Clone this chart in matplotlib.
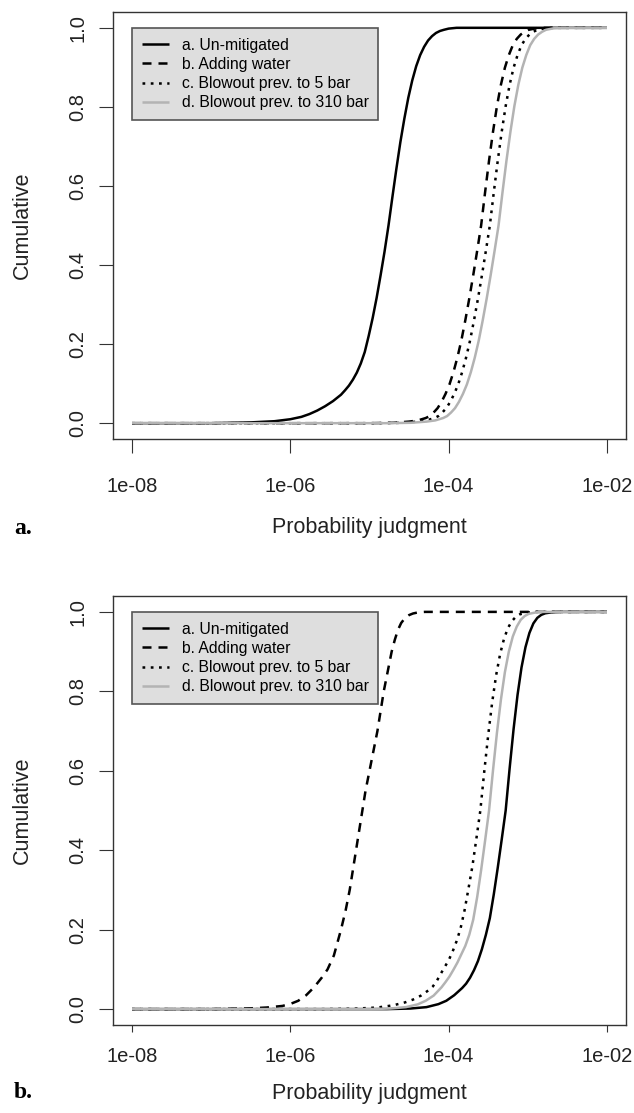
import numpy as np
import matplotlib
matplotlib.use("Agg")
import matplotlib.pyplot as plt
from matplotlib.ticker import NullLocator

plt.rcParams["font.family"] = ["Liberation Sans", "DejaVu Sans"]

series_names = [
    "a. Un-mitigated",
    "b. Adding water",
    "c. Blowout prev. to 5 bar",
    "d. Blowout prev. to 310 bar",
]
x_ticks = [1e-8, 1e-6, 1e-4, 1e-2]
x_tick_labels = ["1e-08", "1e-06", "1e-04", "1e-02"]
y_ticks = [0.0, 0.2, 0.4, 0.6, 0.8, 1.0]
y_tick_labels = ["0.0", "0.2", "0.4", "0.6", "0.8", "1.0"]

# panel a: log10(probability) and cumulative share
a_unmit_logp = [-8, -7, -6.5, -6.2, -6.0, -5.86, -5.76, -5.66, -5.56, -5.46, -5.36,
                -5.31, -5.26, -5.21, -5.16, -5.11, -5.06, -5.01, -4.96, -4.91, -4.86,
                -4.81, -4.76, -4.71, -4.66, -4.61, -4.56, -4.51, -4.46, -4.41, -4.36,
                -4.31, -4.26, -4.21, -4.16, -4.11, -4.06, -4.0, -3.9, -2]
a_unmit_cum = [0, 0, 0.002, 0.005, 0.01, 0.016, 0.023, 0.032, 0.043, 0.056, 0.072,
               0.083, 0.095, 0.11, 0.128, 0.151, 0.18, 0.221, 0.266, 0.317, 0.374,
               0.434, 0.5, 0.573, 0.644, 0.711, 0.77, 0.823, 0.867, 0.903, 0.931,
               0.952, 0.968, 0.979, 0.987, 0.992, 0.995, 0.998, 1.0, 1.0]
a_water_logp = [-8, -5.0, -4.70, -4.50, -4.39, -4.29, -4.24, -4.19, -4.14, -4.09,
                -4.04, -3.99, -3.94, -3.89, -3.84, -3.79, -3.74, -3.69, -3.64, -3.59,
                -3.54, -3.49, -3.44, -3.39, -3.34, -3.29, -3.24, -3.19, -3.14, -3.09,
                -3.04, -2.99, -2.89, -2.79, -2]
a_water_cum = [0, 0, 0.001, 0.004, 0.007, 0.013, 0.018, 0.027, 0.038, 0.054,
               0.074, 0.098, 0.129, 0.166, 0.209, 0.26, 0.315, 0.374, 0.436, 0.5,
               0.584, 0.664, 0.737, 0.802, 0.856, 0.899, 0.931, 0.956, 0.972, 0.983,
               0.99, 0.995, 0.999, 1.0, 1.0]
a_bop5_logp = [-8, -4.89, -4.59, -4.39, -4.28, -4.18, -4.13, -4.08, -4.03, -3.98,
               -3.93, -3.88, -3.83, -3.78, -3.73, -3.68, -3.63, -3.58, -3.53, -3.48,
               -3.43, -3.38, -3.33, -3.28, -3.23, -3.18, -3.13, -3.08, -3.03, -2.98,
               -2.93, -2.88, -2.78, -2.68, -2]
a_bop5_cum = [0, 0, 0.001, 0.004, 0.007, 0.013, 0.018, 0.027, 0.038, 0.054,
              0.074, 0.098, 0.129, 0.166, 0.209, 0.26, 0.315, 0.374, 0.436, 0.5,
              0.584, 0.664, 0.737, 0.802, 0.856, 0.899, 0.931, 0.956, 0.972, 0.983,
              0.99, 0.995, 0.999, 1.0, 1.0]
a_bop310_logp = [-8, -4.78, -4.48, -4.28, -4.17, -4.07, -4.02, -3.97, -3.92, -3.87,
                 -3.82, -3.77, -3.72, -3.67, -3.62, -3.57, -3.52, -3.47, -3.42, -3.37,
                 -3.32, -3.27, -3.22, -3.17, -3.12, -3.07, -3.02, -2.97, -2.92, -2.87,
                 -2.82, -2.77, -2.67, -2.57, -2]
a_bop310_cum = [0, 0, 0.001, 0.004, 0.007, 0.013, 0.018, 0.027, 0.038, 0.054,
                0.074, 0.098, 0.129, 0.166, 0.209, 0.26, 0.315, 0.374, 0.436, 0.5,
                0.584, 0.664, 0.737, 0.802, 0.856, 0.899, 0.931, 0.956, 0.972, 0.983,
                0.99, 0.995, 0.999, 1.0, 1.0]

# panel b
b_unmit_logp = [-8, -4.78, -4.48, -4.28, -4.13, -4.03, -3.93, -3.88, -3.83, -3.78,
                -3.73, -3.68, -3.63, -3.58, -3.53, -3.48, -3.43, -3.38, -3.33, -3.28,
                -3.23, -3.18, -3.13, -3.08, -3.03, -2.98, -2.93, -2.88, -2.83, -2.78,
                -2.68, -2.58, -2]
b_unmit_cum = [0, 0, 0.0015, 0.005, 0.0125, 0.021, 0.035, 0.044, 0.053, 0.064,
               0.079, 0.098, 0.121, 0.151, 0.187, 0.229, 0.289, 0.356, 0.427, 0.5,
               0.606, 0.705, 0.791, 0.86, 0.911, 0.947, 0.971, 0.985, 0.9925, 0.9965,
               0.9994, 1.0, 1.0]
b_water_logp = [-8, -7.0, -6.5, -6.3, -6.1, -6.0, -5.9, -5.8, -5.7, -5.6, -5.53,
                -5.45, -5.36, -5.3, -5.25, -5.21, -5.17, -5.13, -5.09, -5.05, -5.0,
                -4.95, -4.9, -4.86, -4.82, -4.77, -4.72, -4.68, -4.64, -4.6, -4.55,
                -4.5, -4.45, -4.38, -4.3, -2]
b_water_cum = [0, 0, 0.002, 0.004, 0.008, 0.013, 0.021, 0.035, 0.055, 0.08, 0.1,
               0.135, 0.2, 0.25, 0.3, 0.35, 0.4, 0.45, 0.5, 0.55, 0.6,
               0.65, 0.7, 0.75, 0.8, 0.85, 0.9, 0.93, 0.955, 0.972, 0.985,
               0.992, 0.996, 0.999, 1.0, 1.0]
b_bop5_logp = [-8, -5.6, -5.2, -4.9, -4.7, -4.55, -4.45, -4.35, -4.25, -4.2, -4.15,
               -4.1, -4.05, -4.0, -3.95, -3.9, -3.85, -3.8, -3.75, -3.7, -3.65, -3.6,
               -3.55, -3.5, -3.45, -3.4, -3.35, -3.3, -3.25, -3.2, -3.15, -3.1,
               -3.0, -2.9, -2]
b_bop5_cum = [0, 0, 0.001, 0.004, 0.0096, 0.017, 0.024, 0.034, 0.048, 0.057, 0.071,
              0.089, 0.106, 0.123, 0.145, 0.171, 0.203, 0.248, 0.303, 0.36, 0.429, 0.5,
              0.599, 0.691, 0.773, 0.841, 0.894, 0.933, 0.96, 0.977, 0.988, 0.994,
              0.9987, 1.0, 1.0]
b_bop310_logp = [-8, -4.99, -4.74, -4.54, -4.39, -4.29, -4.19, -4.09, -4.04, -3.99,
                 -3.94, -3.89, -3.84, -3.79, -3.74, -3.69, -3.64, -3.59, -3.54, -3.49,
                 -3.44, -3.39, -3.34, -3.29, -3.24, -3.19, -3.14, -3.09, -3.04, -2.99,
                 -2.89, -2.79, -2]
b_bop310_cum = [0, 0, 0.0015, 0.005, 0.012, 0.021, 0.034, 0.055, 0.068, 0.082,
                0.099, 0.117, 0.138, 0.159, 0.187, 0.225, 0.282, 0.35, 0.424, 0.5,
                0.601, 0.696, 0.779, 0.848, 0.9, 0.938, 0.963, 0.98, 0.9895, 0.995,
                0.999, 1.0, 1.0]

styles = [
    dict(color="black", linestyle="-"),
    dict(color="black", dashes=(3.6, 2.8)),
    dict(color="black", dashes=(1.1, 2.2)),
    dict(color="#b3b3b3", linestyle="-"),
]

W, H = 634, 1113


def draw_panel(fig, box, curves, xtick_len, xtick_pad, xlabel_y, tag, tag_y):
    left, top, right, bottom = box
    ax = fig.add_axes([left / W, 1 - bottom / H, (right - left) / W, (bottom - top) / H])
    for (logp, cum), name, st in zip(curves, series_names, styles):
        ax.plot(10.0 ** np.array(logp), cum, lw=1.8, label=name,
                solid_capstyle="butt", dash_capstyle="butt",
                solid_joinstyle="round", **st)

    ax.set_xscale("log")
    ax.set_xlim(10 ** -8.24, 10 ** -1.76)
    ax.set_ylim(-0.04, 1.04)
    ax.xaxis.set_minor_locator(NullLocator())
    ax.set_xticks(x_ticks)
    ax.set_xticklabels(x_tick_labels)
    ax.set_yticks(y_ticks)
    ax.set_yticklabels(y_tick_labels, rotation=90, va="center")
    ax.tick_params(axis="x", length=xtick_len, pad=xtick_pad, labelsize=14.5,
                   color="#333333", labelcolor="#222222")
    ax.tick_params(axis="y", length=10, pad=8.5, labelsize=14.5,
                   color="#333333", labelcolor="#222222")
    for sp in ax.spines.values():
        sp.set_color("#333333")
        sp.set_linewidth(1.0)

    ax.set_xlabel("Probability judgment", fontsize=15.5, va="center", color="#222222")
    ax.xaxis.set_label_coords(0.5, (bottom - xlabel_y) / (bottom - top))
    ax.set_ylabel("Cumulative", fontsize=15.5, va="center", color="#222222")
    ax.yaxis.set_label_coords((22 - left) / (right - left), 0.5)

    leg = ax.legend(loc="upper left", bbox_to_anchor=(1e-8, 1.0),
                    bbox_transform=ax.transData, borderaxespad=0, fontsize=11.3,
                    fancybox=False, facecolor="#dedede", edgecolor="#555555",
                    framealpha=1, handlelength=1.75, handletextpad=0.8,
                    labelspacing=0.27, borderpad=0.62)
    leg.get_frame().set_linewidth(1.2)

    fig.text(14 / W, 1 - tag_y / H, tag, ha="left", va="center", fontsize=17,
             fontweight="bold", family=["Liberation Serif", "DejaVu Serif"])
    return ax


def main():
    fig = plt.figure(figsize=(W / 100, H / 100), dpi=100)
    curves_a = [(a_unmit_logp, a_unmit_cum), (a_water_logp, a_water_cum),
                (a_bop5_logp, a_bop5_cum), (a_bop310_logp, a_bop310_cum)]
    curves_b = [(b_unmit_logp, b_unmit_cum), (b_water_logp, b_water_cum),
                (b_bop5_logp, b_bop5_cum), (b_bop310_logp, b_bop310_cum)]
    draw_panel(fig, (113, 12, 626, 439), curves_a, 10, 17, 528, "a.", 528)
    draw_panel(fig, (113, 596, 626, 1025), curves_b, 5, 11, 1093, "b.", 1093)
    fig.savefig("out.png", dpi=100)


if __name__ == "__main__":
    main()
